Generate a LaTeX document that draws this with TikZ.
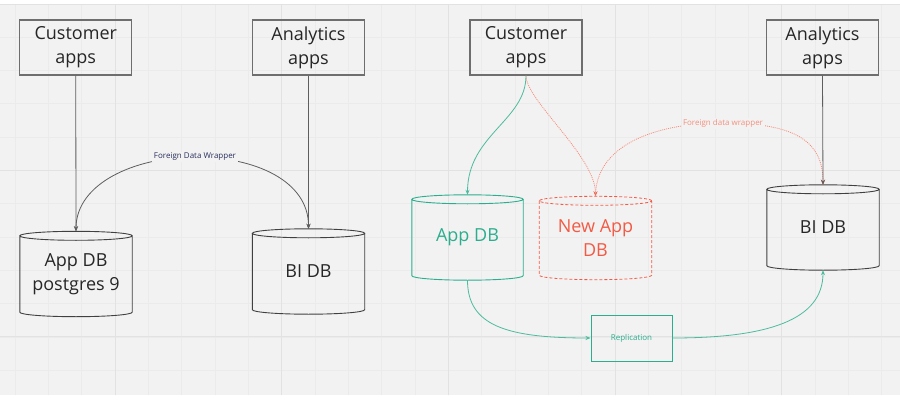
\documentclass[tikz,border=0pt]{standalone}
\usepackage{fontspec}
\setmainfont{Open Sans}
\usetikzlibrary{arrows.meta,calc}
\definecolor{bg}{HTML}{F2F2F2}
\definecolor{gridminor}{HTML}{EBEBEB}
\definecolor{gridmajor}{HTML}{E2E2E2}
\definecolor{boxline}{HTML}{6E6E6E}
\definecolor{txt}{HTML}{262626}
\definecolor{mgreen}{HTML}{2BAE8E}
\definecolor{mgreenline}{HTML}{4DBB9E}
\definecolor{mred}{HTML}{F25A45}
\definecolor{mredlight}{HTML}{F4907E}
\definecolor{navy}{HTML}{2A2F5C}
\definecolor{connc}{HTML}{5E5E5E}
\definecolor{dbline}{HTML}{404040}
\newcommand\dbcyl[2]{%
  \draw[#2] let \p1=(#1.north west), \p2=(#1.south east), \n1={(\x2-\x1)/2} in
  ({\x1},{\y1-4.5pt}) -- ({\x1},{\y2+4.5pt})
  arc[start angle=180,end angle=360,x radius=\n1,y radius=4.5pt] -- ({\x2},{\y1-4.5pt})
  ({\x1+\n1},{\y1-4.5pt}) ellipse[x radius=\n1,y radius=4.5pt];}
\tikzset{
  appbox/.style={draw=boxline, line width=1.2pt, minimum width=112pt, minimum height=55pt,
    inner sep=0pt, align=center, font=\fontsize{18}{24}\selectfont, text=txt},
  dbnode/.style={minimum width=112pt, minimum height=85pt, inner sep=0pt, align=center,
    font=\fontsize{18}{24}\selectfont, text=txt},
  tip/.style={-{Stealth[length=5pt,width=4pt]}},
  connline/.style={draw=connc, line width=0.8pt, tip},
  greenline/.style={draw=mgreenline, line width=0.8pt, tip},
  reddot/.style={draw=mredlight, line width=0.8pt, dash pattern=on 1pt off 1pt,
    -{Stealth[length=5pt,width=4pt,color=mred]}},
  smalllabel/.style={font=\fontsize{8}{10}\selectfont, fill=bg, inner sep=1.5pt},
}
\begin{document}
\begin{tikzpicture}[x=1pt,y=1pt]
\useasboundingbox (0,0) rectangle (900,400);
% background and grid
\fill[white] (0,0) rectangle (900,400);
\fill[bg] (0,5) rectangle (900,396);
\foreach \k in {0,...,26} \draw[gridminor, line width=0.6pt] ({15.1+33.333*\k},5) -- ({15.1+33.333*\k},396);
\foreach \k in {1,...,11} \draw[gridminor, line width=0.6pt] (0,{396.4-33.333*\k}) -- (900,{396.4-33.333*\k});
\foreach \xx in {115,281.67,448.33,615,781.67} \draw[gridmajor, line width=0.8pt] (\xx,5) -- (\xx,396);
\foreach \yy in {230,63.4} \draw[gridmajor, line width=0.8pt] (0,\yy) -- (900,\yy);
\draw[gridmajor, line width=0.8pt] (0,396) -- (900,396);

% ---------- left diagram ----------
\node[appbox] (ca1) at (75.75,352.5) {Customer\\apps};
\node[appbox] (aa1) at (308.5,352.5) {Analytics\\apps};
\node[dbnode] (appdb1) at (76,126) {App DB\\postgres 9};
\node[dbnode] (bidb1) at (308.5,128.5) {BI DB};
\dbcyl{appdb1}{draw=dbline, line width=0.9pt}
\dbcyl{bidb1}{draw=dbline, line width=0.9pt}
\coordinate (fdwpt1) at (195,243);
\draw[connline] (fdwpt1) .. controls +(-60,0) and +(0,48) .. (appdb1.north);
\draw[connline] (fdwpt1) .. controls +(60,0) and +(0,48) .. (bidb1.north);
\node[smalllabel, text=navy] (fdw1) at (fdwpt1) {Foreign Data Wrapper};
\draw[connline] (ca1.south) -- (appdb1.north);
\draw[connline] (aa1.south) -- (bidb1.north);

% ---------- right diagram ----------
\node[appbox] (ca2) at (526,352.5) {Customer\\apps};
\node[appbox] (aa2) at (822.5,352.5) {Analytics\\apps};
\node[dbnode, text=mgreen, minimum width=111pt] (appdb2) at (467.5,162.5) {App DB};
\node[dbnode, text=mred, minimum height=83pt] (newdb) at (595.5,162) {New App\\DB};
\node[dbnode] (bidb2) at (823,172.5) {BI DB};
\dbcyl{appdb2}{draw=mgreen, line width=0.9pt}
\dbcyl{newdb}{draw=mred, line width=0.8pt, dash pattern=on 3pt off 2pt}
\dbcyl{bidb2}{draw=dbline, line width=0.9pt}
\node[draw=mgreen, line width=1pt, minimum width=81pt, minimum height=46pt, inner sep=0pt,
  font=\fontsize{8}{10}\selectfont, text=mgreen] (rep) at (631.5,62) {Replication};

\draw[greenline] (ca2.south) .. controls +(0,-45) and +(0,60) .. (appdb2.north);
\draw[reddot] (ca2.south) .. controls +(0,-25) and +(0,40) .. (newdb.north);
\coordinate (fdwpt2) at (723,277);
\draw[reddot, -] (newdb.north) .. controls +(0,50) and +(-70,0) .. (fdwpt2);
\draw[reddot] (fdwpt2) .. controls +(70,0) and +(0,45) .. (bidb2.north);
\node[smalllabel, text=mredlight] (fdw2) at (fdwpt2) {Foreign data wrapper};
\draw[connline] (aa2.south) -- (bidb2.north);
\draw[greenline] (appdb2.south) .. controls +(0,-45) and +(-85,0) .. (rep.west);
\draw[greenline] (rep.east) .. controls +(95,0) and +(0,-50) .. (bidb2.south);
\end{tikzpicture}
\end{document}
